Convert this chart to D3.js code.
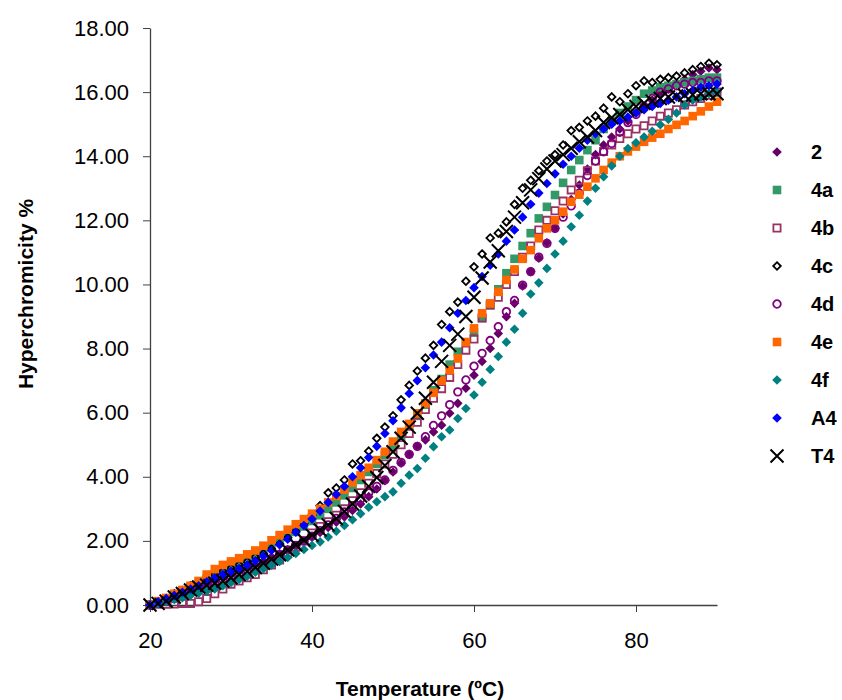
<!DOCTYPE html>
<html>
<head>
<meta charset="utf-8">
<script src="https://cdn.jsdelivr.net/npm/d3@7"></script>
<style>
  body { margin: 0; background: #fff; }
  svg { display: block; font-family: "Liberation Sans", Arial, sans-serif; }
</style>
</head>
<body>
<svg width="842" height="700"></svg>
<script>
// temperature steps (ºC)
const temps = [20,21,22,23,24,25,26,27,28,29,30,31,32,33,34,35,36,37,38,39,
  40,41,42,43,44,45,46,47,48,49,50,51,52,53,54,55,56,57,58,59,
  60,61,62,63,64,65,66,67,68,69,70,71,72,73,74,75,76,77,78,79,
  80,81,82,83,84,85,86,87,88,89,90];

// hyperchromicity % per series
const s2 = [0,0.08,0.15,0.25,0.35,0.45,0.55,0.65,0.75,0.85,0.95,1.05,1.15,1.25,1.36,1.48,1.6,1.72,1.85,1.98,
  2.12,2.26,2.42,2.58,2.75,2.95,3.15,3.38,3.62,3.88,4.15,4.42,4.7,4.95,5.15,5.4,5.61,5.98,6.29,6.76,
  7.17,7.6,8.0,8.47,8.99,9.41,9.95,10.4,10.82,11.3,11.75,12.2,12.65,13.1,13.6,14.05,14.35,14.6,14.85,15.1,
  15.35,15.55,15.75,15.95,16.1,16.25,16.4,16.55,16.65,16.75,16.7];
const s4a = [0,0.1,0.2,0.3,0.42,0.55,0.68,0.82,0.95,1.07,1.18,1.3,1.42,1.55,1.68,1.82,1.97,2.12,2.28,2.45,
  2.62,2.8,3.0,3.2,3.42,3.65,3.9,4.15,4.4,4.68,4.98,5.28,5.6,5.9,6.25,6.7,7.05,7.5,7.9,8.2,
  8.5,8.95,9.35,9.85,10.35,10.8,11.2,11.6,12.06,12.42,12.79,13.17,13.57,13.88,14.19,14.5,14.85,15.1,15.35,15.55,
  15.75,15.95,16.05,16.15,16.2,16.25,16.3,16.35,16.4,16.45,16.45];
const s4b = [0,0.02,0.02,0.03,0.05,0.05,0.1,0.2,0.35,0.5,0.65,0.75,0.85,0.95,1.1,1.25,1.4,1.6,1.8,2.0,
  2.25,2.45,2.6,2.8,3.0,3.25,3.5,3.8,4.1,4.4,4.7,5.0,5.35,5.7,6.1,6.45,6.75,7.1,7.5,7.95,
  8.3,8.95,9.36,9.6,10.0,10.4,10.85,11.2,11.7,12.0,12.3,12.6,12.95,13.25,13.55,13.85,14.15,14.35,14.55,14.7,
  14.85,14.95,15.1,15.25,15.35,15.45,15.6,15.7,15.8,15.9,16.0];
const s4c = [0,0.1,0.2,0.35,0.45,0.6,0.7,0.85,0.95,1.05,1.15,1.25,1.35,1.5,1.6,1.75,1.9,2.1,2.3,2.55,
  2.8,3.1,3.5,3.65,3.9,4.4,4.5,4.8,5.2,5.55,5.9,6.4,6.85,7.3,7.7,8.1,8.75,9.15,9.45,10.1,
  10.55,10.95,11.45,11.6,11.95,12.5,13.0,13.25,13.55,13.85,14.05,14.35,14.8,14.9,15.1,15.25,15.5,15.85,15.7,15.95,
  16.2,16.35,16.3,16.4,16.45,16.5,16.6,16.7,16.8,16.9,16.85];
const s4d = [0,0.05,0.12,0.2,0.3,0.4,0.5,0.6,0.7,0.8,0.9,1.0,1.1,1.2,1.32,1.45,1.58,1.72,1.86,2.0,
  2.15,2.32,2.5,2.7,2.9,3.1,3.3,3.5,3.7,3.9,4.2,4.45,4.7,4.95,5.25,5.6,5.9,6.25,6.65,7.02,
  7.45,7.85,8.25,8.68,9.15,9.5,9.98,10.4,10.85,11.28,11.75,12.1,12.45,12.85,13.4,13.85,14.14,14.4,14.75,15.05,
  15.3,15.55,15.8,16.0,16.1,16.2,16.25,16.3,16.3,16.35,16.35];
const s4e = [0,0.12,0.22,0.35,0.47,0.6,0.75,0.95,1.12,1.25,1.36,1.46,1.58,1.7,1.85,2.02,2.18,2.35,2.52,2.68,
  2.85,3.0,3.2,3.4,3.6,3.82,4.05,4.28,4.52,4.78,5.1,5.4,5.65,5.98,6.29,6.62,7.0,7.33,7.69,8.2,
  8.63,9.1,9.41,9.77,10.14,10.47,10.8,11.07,11.44,11.75,12.0,12.27,12.58,12.8,13.05,13.31,13.57,13.8,14.0,14.15,
  14.3,14.45,14.58,14.7,14.85,14.98,15.1,15.25,15.4,15.55,15.7];
const s4f = [0,0.05,0.1,0.17,0.23,0.3,0.37,0.43,0.5,0.6,0.7,0.8,0.9,1.02,1.13,1.24,1.36,1.48,1.61,1.73,
  1.86,1.97,2.12,2.3,2.48,2.66,2.85,3.05,3.22,3.38,3.53,3.8,4.05,4.26,4.58,4.94,5.25,5.46,5.82,6.13,
  6.55,6.95,7.35,7.75,8.2,8.6,9.1,9.7,10.05,10.5,10.95,11.35,11.8,12.16,12.6,13.0,13.36,13.7,14.0,14.24,
  14.42,14.6,14.78,14.98,15.15,15.35,15.6,15.75,15.85,15.95,16.0];
const sA4 = [0,0.1,0.2,0.3,0.4,0.5,0.6,0.72,0.85,0.95,1.05,1.14,1.25,1.38,1.53,1.7,1.88,2.05,2.27,2.48,
  2.68,2.93,3.2,3.45,3.7,4.0,4.28,4.6,4.95,5.35,5.75,6.15,6.6,7.0,7.4,7.8,8.2,8.65,9.1,9.5,
  9.9,10.25,10.6,10.95,11.35,11.7,12.1,12.5,12.85,13.15,13.45,13.75,14.0,14.25,14.5,14.7,14.85,15.0,15.1,15.22,
  15.35,15.45,15.55,15.65,15.75,15.85,15.95,16.05,16.15,16.2,16.25];
const sT4 = [0,0.05,0.12,0.25,0.36,0.47,0.56,0.62,0.68,0.75,0.85,0.95,1.05,1.17,1.3,1.43,1.57,1.72,1.88,2.03,
  2.18,2.34,2.5,2.7,2.92,3.15,3.4,3.7,3.98,4.35,4.78,5.2,5.55,5.98,6.45,6.95,7.6,8.1,8.45,9.0,
  9.6,10.2,10.7,11.05,11.65,12.1,12.55,12.95,13.3,13.6,13.85,14.05,14.25,14.45,14.6,14.8,15.05,15.2,15.3,15.45,
  15.55,15.65,15.72,15.8,15.85,15.88,15.9,15.92,15.95,15.95,15.95];

const names = ["2", "4a", "4b", "4c", "4d", "4e", "4f", "A4", "T4"];
const seriesValues = [s2, s4a, s4b, s4c, s4d, s4e, s4f, sA4, sT4];
const yTicks = [0, 2, 4, 6, 8, 10, 12, 14, 16, 18];
const xTicks = [20, 40, 60, 80];

// marker look per series
const styles = [
  { shape: "diamond", fill: "#660066", stroke: "none" },
  { shape: "square", fill: "#339966", stroke: "none" },
  { shape: "square", fill: "none", stroke: "#993366", hollow: true },
  { shape: "diamond", fill: "none", stroke: "#000000", hollow: true },
  { shape: "circle", fill: "none", stroke: "#800080", hollow: true },
  { shape: "square", fill: "#FF6600", stroke: "none" },
  { shape: "diamond", fill: "#008080", stroke: "none" },
  { shape: "diamond", fill: "#0000FF", stroke: "none" },
  { shape: "x", fill: "none", stroke: "#000000" }
];

function markerPath(shape, hollow) {
  if (shape === "diamond") {
    const r = hollow ? 3.8 : 4.8;
    return `M0,${-r}L${r},0L0,${r}L${-r},0Z`;
  }
  if (shape === "square") {
    const h = hollow ? 3.6 : 4.3;
    return `M${-h},${-h}H${h}V${h}H${-h}Z`;
  }
  if (shape === "circle") {
    const r = 3.8;
    return `M${r},0A${r},${r} 0 1,1 ${-r},0A${r},${r} 0 1,1 ${r},0Z`;
  }
  const a = 6.5;
  return `M${-a},${-a}L${a},${a}M${-a},${a}L${a},${-a}`;
}

const svg = d3.select("svg");

const x = d3.scaleLinear().domain([20, 90]).range([150, 717]);
const y = d3.scaleLinear().domain([0, 18]).range([605, 28]);

// axes
const yAxis = svg.append("g")
  .attr("transform", `translate(${x(20)},0)`)
  .call(d3.axisLeft(y).tickValues(yTicks).tickFormat(d3.format(".2f")).tickSize(7).tickSizeOuter(0).tickPadding(14));
const xAxis = svg.append("g")
  .attr("transform", `translate(0,${y(0)})`)
  .call(d3.axisBottom(x).tickValues(xTicks).tickSize(7).tickSizeOuter(0).tickPadding(20));

[xAxis, yAxis].forEach(g => {
  g.select(".domain").attr("stroke", "#404040").attr("stroke-width", 1.3);
  g.selectAll(".tick line").attr("stroke", "#404040");
  g.selectAll(".tick text").attr("fill", "#000").style("font-size", "22px")
    .style("font-family", "'Liberation Sans', Arial, sans-serif");
});

// points
seriesValues.forEach((vals, i) => {
  const st = styles[i];
  svg.append("g").selectAll("path")
    .data(temps.map((t, j) => ({ t, v: vals[j] })))
    .join("path")
    .attr("transform", d => `translate(${x(d.t)},${y(d.v)})`)
    .attr("d", markerPath(st.shape, st.hollow))
    .attr("fill", st.fill)
    .attr("stroke", st.stroke)
    .attr("stroke-width", st.shape === "x" ? 2 : 1.8);
});

// axis titles
svg.append("text")
  .attr("x", 420).attr("y", 696)
  .attr("text-anchor", "middle")
  .style("font-size", "21px").style("font-weight", "bold")
  .text("Temperature (ºC)");

svg.append("text")
  .attr("transform", "translate(33,294) rotate(-90)")
  .attr("text-anchor", "middle")
  .style("font-size", "21px").style("font-weight", "bold")
  .text("Hyperchromicity %");

// legend
const legend = svg.append("g");
names.forEach((n, i) => {
  const st = styles[i];
  const ly = 152 + i * 38;
  legend.append("path")
    .attr("transform", `translate(777,${ly})`)
    .attr("d", markerPath(st.shape, st.hollow))
    .attr("fill", st.fill)
    .attr("stroke", st.stroke)
    .attr("stroke-width", st.shape === "x" ? 2 : 1.8);
  legend.append("text")
    .attr("x", 811).attr("y", ly + 7)
    .style("font-size", "20px").style("font-weight", "bold")
    .text(n);
});
</script>
</body>
</html>
